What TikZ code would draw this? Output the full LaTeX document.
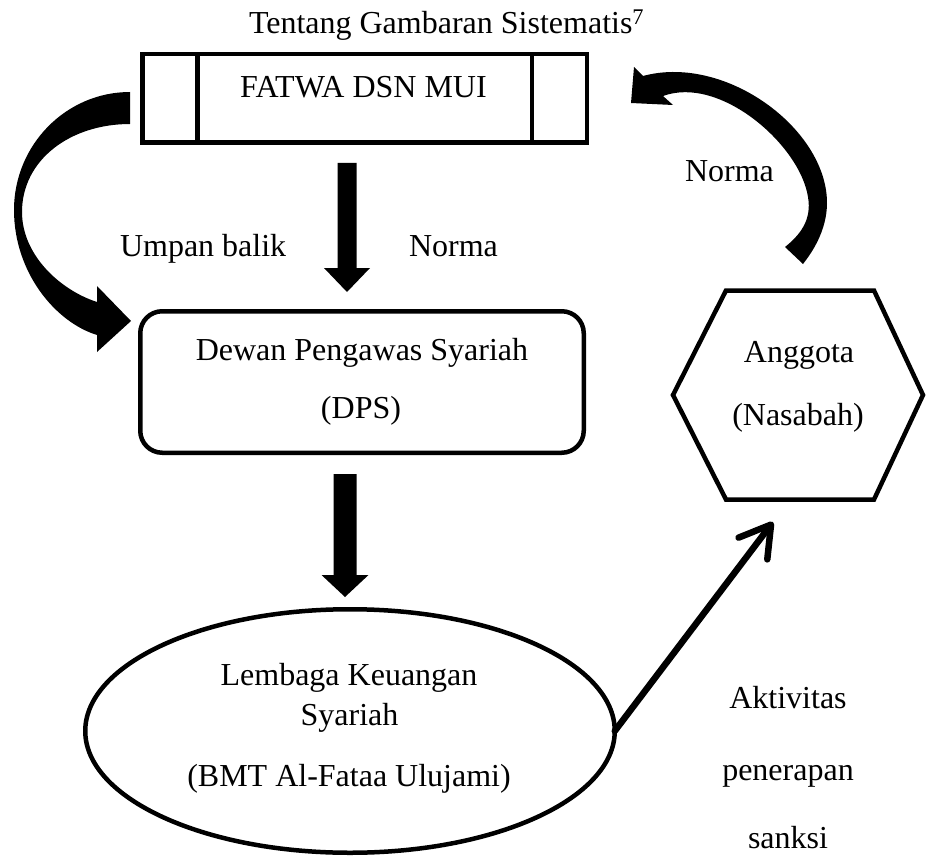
\documentclass[tikz,border=0pt]{standalone}
\usepackage{fontspec}
\setmainfont{Liberation Serif}
\usetikzlibrary{calc,arrows.meta,shapes.geometric}
\newcommand\mkblockarrow[5]{%
  \fill let \p1=(#1), \p2=(#2) in
    (\x1-#3pt,\y1) -- (\x1+#3pt,\y1) -- (\x1+#3pt,\y2+#5pt) -- (\x1+#4pt,\y2+#5pt)
    -- (\x1,\y2) -- (\x1-#4pt,\y2+#5pt) -- (\x1-#3pt,\y2+#5pt) -- cycle;}
\begin{document}
\begin{tikzpicture}[x=1pt,y=-1pt,
  txt/.style={inner sep=0pt, outer sep=0pt, anchor=base, font=\fontsize{32}{38}\selectfont},
  shapeline/.style={draw=black, line width=4.5pt},
  boxnode/.style={shapeline, rectangle, inner sep=0pt, outer sep=0pt},
  roundnode/.style={shapeline, rectangle, rounded corners=22pt, inner sep=0pt, outer sep=0pt},
  ellnode/.style={shapeline, ellipse, inner sep=0pt, outer sep=0pt},
  thinarrow/.style={line width=6.5pt, line cap=round, -{Straight Barb[length=30pt,width=36pt,line cap=round,line join=round]}}
]
\useasboundingbox (0,0) rectangle (929,856);

% title
\node[txt, anchor=base west] (title) at (249,34) {Tentang Gambaran Sistematis\textsuperscript{7}};

% FATWA box
\node[boxnode, minimum width=444.5pt, minimum height=88.5pt] (fatwa) at (364.5,98.5) {};
\draw[shapeline] ($(fatwa.north west)+(55,0)$) -- ($(fatwa.south west)+(55,0)$);
\draw[shapeline] ($(fatwa.north east)+(-55,0)$) -- ($(fatwa.south east)+(-55,0)$);
\node[txt] (fatwatxt) at (363.5,98) {FATWA DSN MUI};

% DPS
\node[roundnode, minimum width=443.5pt, minimum height=141.5pt] (dps) at (362,382) {};
\node[txt] (dps1) at (362,360) {Dewan Pengawas Syariah};
\node[txt] (dps2) at (361,418) {(DPS)};

% Ellipse
\node[ellnode, minimum width=529.5pt, minimum height=243.5pt] (ell) at (350,731) {};
\node[txt] (ell1) at (349,685) {Lembaga Keuangan};
\node[txt] (ell2) at (349.5,725) {Syariah};
\node[txt] (ell3) at (349,786) {(BMT Al-Fataa Ulujami)};

% Hexagon
\coordinate (hexc) at (799,395);
\draw[shapeline, line join=miter]
  ($(hexc)+(-73,-104.5)$) -- ($(hexc)+(75,-104.5)$) -- ($(hexc)+(124,0)$)
  -- ($(hexc)+(75,104.5)$) -- ($(hexc)+(-73,104.5)$) -- ($(hexc)+(-126,0)$) -- cycle;
\node[txt] (hex1) at (799,362) {Anggota};
\node[txt] (hex2) at (798,425) {(Nasabah)};

% labels
\node[txt, anchor=base west] (umpan) at (120,256) {Umpan balik};
\node[txt, anchor=base west] (norma1) at (409,256) {Norma};
\node[txt, anchor=base west] (norma2) at (685,182) {Norma};
\node[txt] (akt1) at (788,708) {Aktivitas};
\node[txt] (akt2) at (788,780) {penerapan};
\node[txt] (akt3) at (788,848) {sanksi};

% straight block arrows
\coordinate (a1s) at ($(fatwa.south)+(-17.5,20.25)$);
\coordinate (a1e) at ($(dps.north)+(-15,-19.25)$);
\mkblockarrow{a1s}{a1e}{9.5}{23}{24}
\coordinate (a2s) at ($(dps.south)+(-17,21.25)$);
\coordinate (a2e) at ($(ell.north)+(-5,-12.25)$);
\mkblockarrow{a2s}{a2e}{11.5}{23.5}{22}

% curved arrow: FATWA -> DPS (Umpan balik)
\fill (130,92) .. controls (66,92) and (14,145) .. (14,210)
  .. controls (14,272) and (55,322) .. (97,335)
  -- (97,352) -- (131,321) -- (97,286) -- (97,302)
  .. controls (60,290) and (22,255) .. (22,212)
  .. controls (22,160) and (70,124) .. (130,124) -- cycle;

% curved arrow: Anggota -> FATWA (Norma)
\fill (803,264) .. controls (822,240) and (830,215) .. (826,190)
  .. controls (815,120) and (720,55) .. (643,76)
  -- (634,67) -- (631,103) -- (673,105) -- (663,96)
  .. controls (720,75) and (800,145) .. (808,197)
  .. controls (812,220) and (800,235) .. (785,247) -- cycle;

% thin arrow: ellipse -> Anggota
\coordinate (hexarr) at ($(hexc)+(-26,127)$);
\draw[thinarrow] (ell.east) -- (hexarr);
\end{tikzpicture}
\end{document}
